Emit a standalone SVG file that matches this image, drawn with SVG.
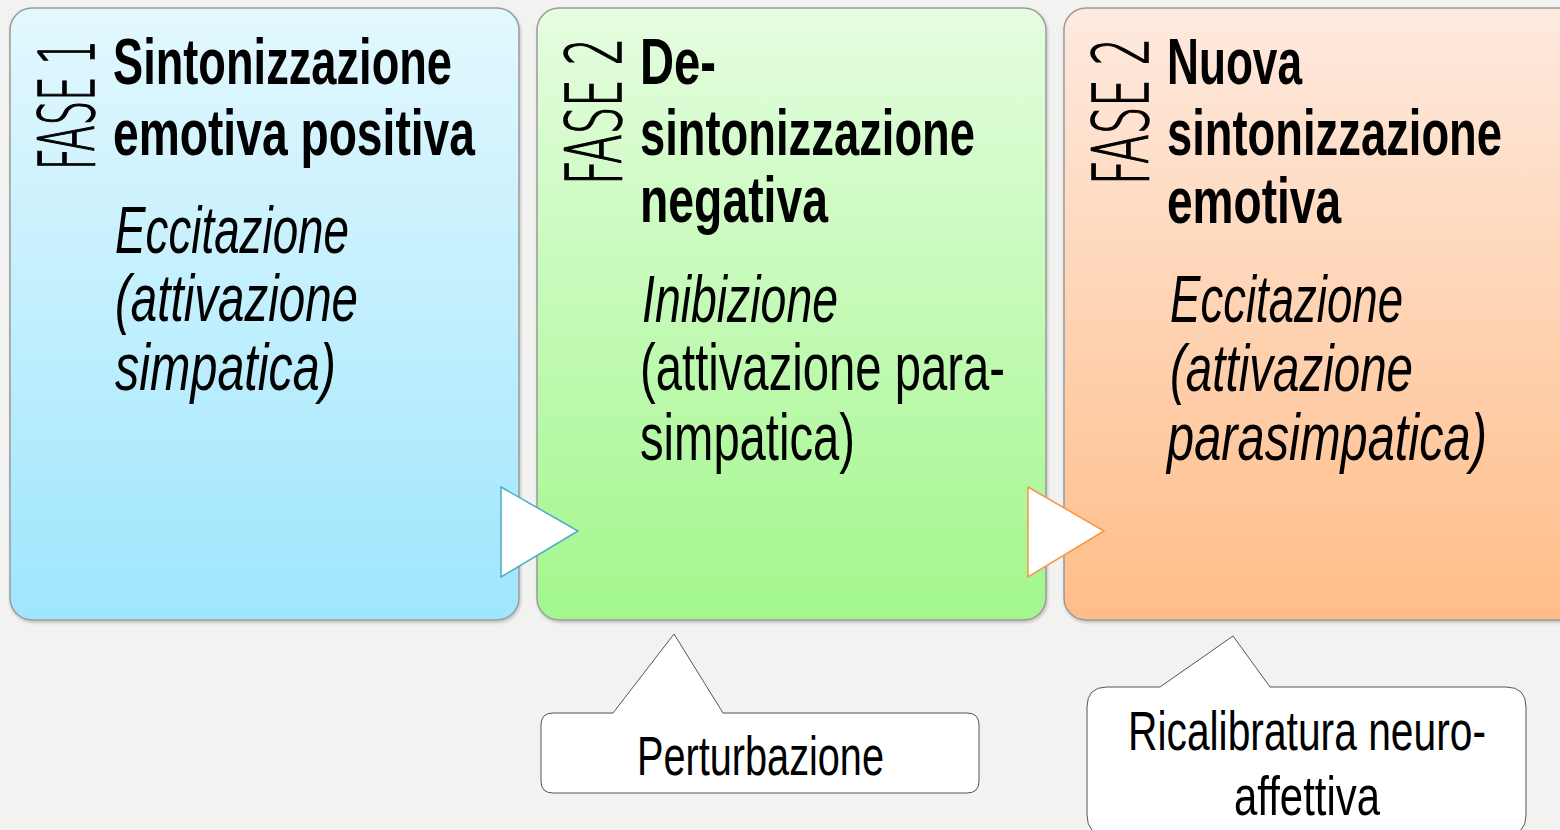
<svg xmlns="http://www.w3.org/2000/svg" width="1560" height="830" viewBox="0 0 1560 830">
<style>
.box{stroke:#9a9a9a;stroke-width:1.5}
.t{font-family:"Liberation Sans",Arial,sans-serif;font-weight:bold;font-size:64px;fill:#000}
.i{font-family:"Liberation Sans",Arial,sans-serif;font-style:italic;font-size:66px;fill:#000}
.r{font-family:"Liberation Sans",Arial,sans-serif;font-size:66px;fill:#000}
.f{font-family:"DejaVu Sans","Liberation Sans",sans-serif;font-weight:200;font-size:76px;fill:#000;stroke:#000;stroke-width:1.6}
.c{font-family:"Liberation Sans",Arial,sans-serif;font-size:56px;fill:#000}
.call{fill:#fff;stroke:#555;stroke-width:1}
</style>
<defs>
<linearGradient id="g1" x1="0" y1="0" x2="0" y2="1"><stop offset="0" stop-color="#e3f8fe"/><stop offset="1" stop-color="#9fe6fd"/></linearGradient>
<linearGradient id="g2" x1="0" y1="0" x2="0" y2="1"><stop offset="0" stop-color="#e5fde0"/><stop offset="1" stop-color="#a2f78c"/></linearGradient>
<linearGradient id="g3" x1="0" y1="0" x2="0" y2="1"><stop offset="0" stop-color="#feeadf"/><stop offset="1" stop-color="#ffbd88"/></linearGradient>
<filter id="sh" x="-5%" y="-5%" width="110%" height="110%"><feDropShadow dx="1" dy="2" stdDeviation="1.5" flood-color="#000" flood-opacity="0.2"/></filter>
</defs>
<rect width="1560" height="830" fill="#f2f2f0"/>

<g id="fase1">
<rect class="box" x="10" y="8" width="509" height="612" rx="22" fill="url(#g1)" filter="url(#sh)"/>
<text class="f" transform="translate(94,170) rotate(-90)" textLength="130" lengthAdjust="spacingAndGlyphs">FASE 1</text>
<text class="t" x="113" y="84" textLength="339" lengthAdjust="spacingAndGlyphs">Sintonizzazione</text>
<text class="t" x="113" y="155" textLength="362" lengthAdjust="spacingAndGlyphs">emotiva positiva</text>
<text class="i" x="115" y="253" textLength="234" lengthAdjust="spacingAndGlyphs">Eccitazione</text>
<text class="i" x="115" y="321" textLength="243" lengthAdjust="spacingAndGlyphs">(attivazione</text>
<text class="i" x="115" y="390" textLength="221" lengthAdjust="spacingAndGlyphs">simpatica)</text>
</g>

<g id="fase2">
<rect class="box" x="537" y="8" width="509" height="612" rx="22" fill="url(#g2)" filter="url(#sh)"/>
<text class="f" transform="translate(621,185) rotate(-90)" textLength="147" lengthAdjust="spacingAndGlyphs">FASE 2</text>
<text class="t" x="640" y="84" textLength="76" lengthAdjust="spacingAndGlyphs">De-</text>
<text class="t" x="640" y="155" textLength="335" lengthAdjust="spacingAndGlyphs">sintonizzazione</text>
<text class="t" x="640" y="222" textLength="188" lengthAdjust="spacingAndGlyphs">negativa</text>
<text class="i" x="642" y="322" textLength="196" lengthAdjust="spacingAndGlyphs">Inibizione</text>
<text class="r" x="640" y="390" textLength="365" lengthAdjust="spacingAndGlyphs">(attivazione para-</text>
<text class="r" x="640" y="460" textLength="215" lengthAdjust="spacingAndGlyphs">simpatica)</text>
</g>

<g id="fase3">
<rect class="box" x="1064" y="8" width="520" height="612" rx="22" fill="url(#g3)" filter="url(#sh)"/>
<text class="f" transform="translate(1148,185) rotate(-90)" textLength="147" lengthAdjust="spacingAndGlyphs">FASE 2</text>
<text class="t" x="1167" y="84" textLength="135" lengthAdjust="spacingAndGlyphs">Nuova</text>
<text class="t" x="1167" y="155" textLength="335" lengthAdjust="spacingAndGlyphs">sintonizzazione</text>
<text class="t" x="1167" y="223" textLength="174" lengthAdjust="spacingAndGlyphs">emotiva</text>
<text class="i" x="1170" y="322" textLength="233" lengthAdjust="spacingAndGlyphs">Eccitazione</text>
<text class="i" x="1170" y="391" textLength="243" lengthAdjust="spacingAndGlyphs">(attivazione</text>
<text class="i" x="1167" y="460" textLength="320" lengthAdjust="spacingAndGlyphs">parasimpatica)</text>
</g>

<g id="connectors">
<polygon points="501,487 578,531 501,577" fill="#fff" stroke="#4bacc6" stroke-width="1.5"/>
<polygon points="1028,487 1104,531 1028,577" fill="#fff" stroke="#f79646" stroke-width="1.5"/>
</g>

<g id="perturbazione">
<path class="call" d="M553,713 L613,713 L674,634 L723,713 L967,713 Q979,713 979,725 L979,781 Q979,793 967,793 L553,793 Q541,793 541,781 L541,725 Q541,713 553,713 Z"/>
<text class="c" x="637" y="775" textLength="247" lengthAdjust="spacingAndGlyphs">Perturbazione</text>
</g>

<g id="ricalibratura">
<path class="call" d="M1107,687 L1160,687 L1233,636 L1270,687 L1506,687 Q1526,687 1526,707 L1526,815 Q1526,835 1506,835 L1107,835 Q1087,835 1087,815 L1087,707 Q1087,687 1107,687 Z"/>
<text class="c" x="1128" y="750" textLength="358" lengthAdjust="spacingAndGlyphs">Ricalibratura neuro-</text>
<text class="c" x="1234" y="815" textLength="146" lengthAdjust="spacingAndGlyphs">affettiva</text>
</g>
</svg>
